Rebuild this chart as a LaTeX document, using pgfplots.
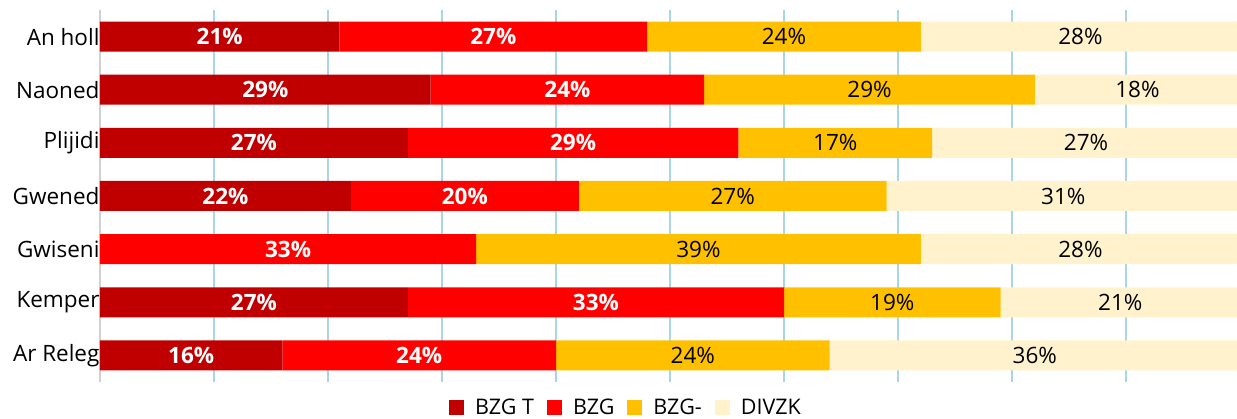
\documentclass[border=0pt]{standalone}
\usepackage{pgfplots}
\pgfplotsset{compat=1.18}
\usepackage{fontspec}
\setmainfont{Open Sans}
\definecolor{cA}{HTML}{C00000}
\definecolor{cB}{HTML}{FF0000}
\definecolor{cC}{HTML}{FFC000}
\definecolor{cD}{HTML}{FFF2CC}
\definecolor{grid}{HTML}{A9D6E5}
\begin{document}
\begin{tikzpicture}
\path[use as bounding box] (-100pt,-37pt) rectangle (1137pt,382pt);
\begin{axis}[
  at={(0pt,0pt)}, anchor=south west,
  scale only axis, width=1140pt, height=372pt,
  xbar stacked, bar width=30pt,
  xmin=0, xmax=100, ymin=-0.5, ymax=6.5,
  xtick={0,10,...,100}, xticklabels={},
  xmajorgrids, major grid style={draw=grid, line width=1.3pt},
  ytick={0,1,2,3,4,5,6},
  yticklabels={Ar Releg,Kemper,Gwiseni,Gwened,Plijidi,Naoned,An holl},
  y tick label style={font=\fontsize{22.5}{27}\selectfont, xshift=3pt},
  major tick length=0pt,
  x axis line style={draw=none},
  axis x line*=bottom, axis y line*=left,
  y axis line style={draw=black!18, line width=1.5pt, -},
  point meta=explicit symbolic,
  nodes near coords,
  every node near coord/.append style={font=\fontsize{22.5}{27}\selectfont},
  legend columns=4,
  legend style={at={(0.4605,-0.088)}, anchor=south, draw=none, fill=none,
    inner sep=0pt, outer sep=0pt,
    font=\fontsize{21.5}{26}\selectfont,
    nodes={inner sep=0pt, text depth=0pt},
    /tikz/every odd column/.append style={column sep=11pt},
    /tikz/every even column/.append style={column sep=13pt}},
  legend image code/.code={\fill[#1,draw=none] (0pt,-8pt) rectangle (15pt,7pt);},
  clip=false,
]
\addplot+[fill=cA, draw=none, nodes near coords style={text=white, font=\fontsize{22.5}{27}\selectfont\bfseries}] coordinates {
 (16,0) [16\%] (27,1) [27\%] (0,2) [{}] (22,3) [22\%] (27,4) [27\%] (29,5) [29\%] (21,6) [21\%]};
\addplot+[fill=cB, draw=none, nodes near coords style={text=white, font=\fontsize{22.5}{27}\selectfont\bfseries}] coordinates {
 (24,0) [24\%] (33,1) [33\%] (33,2) [33\%] (20,3) [20\%] (29,4) [29\%] (24,5) [24\%] (27,6) [27\%]};
\addplot+[fill=cC, draw=none, nodes near coords style={text=black}] coordinates {
 (24,0) [24\%] (19,1) [19\%] (39,2) [39\%] (27,3) [27\%] (17,4) [17\%] (29,5) [29\%] (24,6) [24\%]};
\addplot+[fill=cD, draw=none, nodes near coords style={text=black}] coordinates {
 (36,0) [36\%] (21,1) [21\%] (28,2) [28\%] (31,3) [31\%] (27,4) [27\%] (18,5) [18\%] (28,6) [28\%]};
\legend{BZG T,BZG,BZG-,DIVZK}
\end{axis}
\end{tikzpicture}
\end{document}
